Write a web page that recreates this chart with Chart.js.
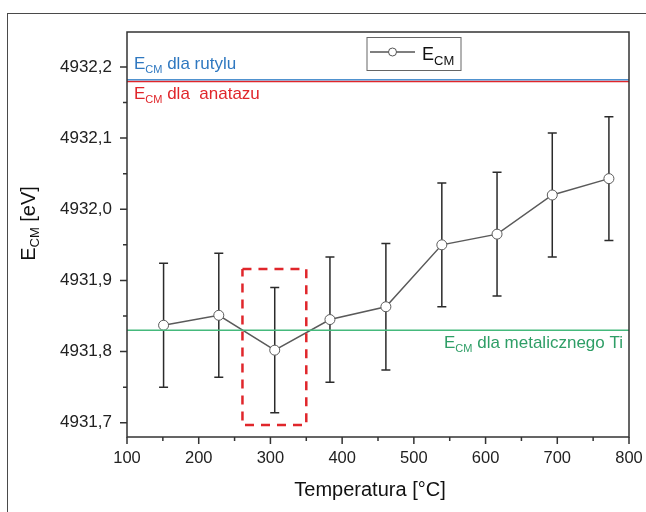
<!DOCTYPE html>
<html>
<head>
<meta charset="utf-8">
<script src="https://cdn.jsdelivr.net/npm/chart.js@4/dist/chart.umd.min.js"></script>
<style>
  html, body { margin: 0; padding: 0; background: #fff; overflow: hidden; }
  #wrap { position: relative; width: 646px; height: 512px; }
  #frame { position: absolute; left: 7px; top: 13px; width: 700px; height: 600px;
           border-top: 1.5px solid #4a4a4a; border-left: 1.5px solid #4a4a4a; }
  canvas { position: absolute; left: 0; top: 0; }
</style>
</head>
<body>
<div id="wrap">
  <div id="frame"></div>
  <canvas id="c" width="646" height="512"></canvas>
</div>
<script>
// Temperature series: E_CM measured after annealing
const temps = [151, 228, 306, 383, 461, 539, 616, 693, 772];
const ecm = [4931.837, 4931.851, 4931.802, 4931.845, 4931.863, 4931.950, 4931.965, 4932.020, 4932.043];
const ecmErr = [0.087, 0.087, 0.088, 0.088, 0.089, 0.087, 0.087, 0.087, 0.087];

// Reference energies
const refRutyl = 4932.182;
const refAnataz = 4932.1795;
const refMetal = 4931.830;

// Highlighted region (temperature range and energy range)
const boxTemps = [261, 350];
const boxEnergy = [4931.697, 4931.916];

// Axis ticks
const xTicks = [100, 150, 200, 250, 300, 350, 400, 450, 500, 550, 600, 650, 700, 750, 800];
const xTickLabels = ['100', '', '200', '', '300', '', '400', '', '500', '', '600', '', '700', '', '800'];
const yTicks = [4931.7, 4931.75, 4931.8, 4931.85, 4931.9, 4931.95, 4932.0, 4932.05, 4932.1, 4932.15, 4932.2];
const yTickLabels = ['4931,7', '', '4931,8', '', '4931,9', '', '4932,0', '', '4932,1', '', '4932,2'];

const FONT = '"Liberation Sans", Arial, sans-serif';
const AXIS = '#333333';

const hline = (v) => [{ x: 100, y: v }, { x: 800, y: v }];

// Draws text made of runs, some of them subscripted
function runs(ctx, x, y, parts, align) {
  let total = 0;
  parts.forEach(p => { ctx.font = p.size + 'px ' + FONT; p.w = ctx.measureText(p.t).width; total += p.w; });
  let cx = align === 'right' ? x - total : align === 'center' ? x - total / 2 : x;
  ctx.textAlign = 'left';
  ctx.textBaseline = 'alphabetic';
  parts.forEach(p => {
    ctx.font = p.size + 'px ' + FONT;
    ctx.fillText(p.t, cx, y + (p.dy || 0));
    cx += p.w;
  });
}

const decor = {
  id: 'decor',
  beforeDatasetsDraw(chart) {
    const { ctx, scales: { x, y } } = chart;
    ctx.save();
    ctx.strokeStyle = '#2b2b2b';
    ctx.lineWidth = 1.5;
    temps.forEach((t, i) => {
      const px = x.getPixelForValue(t);
      const top = y.getPixelForValue(ecm[i] + ecmErr[i]);
      const bot = y.getPixelForValue(ecm[i] - ecmErr[i]);
      ctx.beginPath();
      ctx.moveTo(px, top); ctx.lineTo(px, bot);
      ctx.moveTo(px - 4.5, top); ctx.lineTo(px + 4.5, top);
      ctx.moveTo(px - 4.5, bot); ctx.lineTo(px + 4.5, bot);
      ctx.stroke();
    });
    ctx.restore();
  },
  afterDatasetsDraw(chart) {
    const { ctx, chartArea: a, scales: { x, y } } = chart;
    ctx.save();
    // axis box
    ctx.strokeStyle = AXIS;
    ctx.lineWidth = 1.5;
    ctx.strokeRect(a.left, a.top, a.right - a.left, a.bottom - a.top);
    // tick marks
    ctx.beginPath();
    xTicks.forEach((t, i) => {
      const px = x.getPixelForValue(t);
      const len = xTickLabels[i] ? 7 : 4;
      ctx.moveTo(px, a.bottom); ctx.lineTo(px, a.bottom + len);
    });
    yTicks.forEach((t, i) => {
      const py = y.getPixelForValue(t);
      const len = yTickLabels[i] ? 7 : 4;
      ctx.moveTo(a.left, py); ctx.lineTo(a.left - len, py);
    });
    ctx.stroke();

    // reference labels
    ctx.fillStyle = '#2f78c0';
    runs(ctx, a.left + 7, y.getPixelForValue(refRutyl) - 11,
      [{ t: 'E', size: 17 }, { t: 'CM', size: 11, dy: 4 }, { t: ' dla rutylu', size: 17 }]);
    ctx.fillStyle = '#e0262b';
    runs(ctx, a.left + 7, y.getPixelForValue(refAnataz) + 18,
      [{ t: 'E', size: 17 }, { t: 'CM', size: 11, dy: 4 }, { t: ' dla  anatazu', size: 17 }]);
    ctx.fillStyle = '#2e9e66';
    runs(ctx, a.right - 6, y.getPixelForValue(refMetal) + 18,
      [{ t: 'E', size: 17 }, { t: 'CM', size: 11, dy: 4 }, { t: ' dla metalicznego Ti', size: 17 }], 'right');

    // legend
    const lx = 367, ly = 37.5, lw = 94, lh = 33;
    ctx.fillStyle = '#fff';
    ctx.fillRect(lx, ly, lw, lh);
    ctx.strokeStyle = '#666';
    ctx.lineWidth = 1;
    ctx.strokeRect(lx, ly, lw, lh);
    ctx.strokeStyle = '#555';
    ctx.lineWidth = 1.5;
    ctx.beginPath(); ctx.moveTo(lx + 3, ly + 14.5); ctx.lineTo(lx + 48, ly + 14.5); ctx.stroke();
    ctx.beginPath(); ctx.arc(lx + 25.5, ly + 14.5, 4, 0, Math.PI * 2);
    ctx.fillStyle = '#fff'; ctx.fill();
    ctx.lineWidth = 1; ctx.stroke();
    ctx.fillStyle = '#111';
    runs(ctx, lx + 55, ly + 22, [{ t: 'E', size: 18 }, { t: 'CM', size: 13, dy: 5 }]);

    // axis titles
    ctx.fillStyle = '#111';
    runs(ctx, (a.left + a.right) / 2 - 8, 496, [{ t: 'Temperatura [°C]', size: 20 }], 'center');
    ctx.translate(35, (a.top + a.bottom) / 2 - 11);
    ctx.rotate(-Math.PI / 2);
    runs(ctx, 0, 0, [{ t: 'E', size: 20 }, { t: 'CM', size: 13, dy: 4 }, { t: ' [eV]', size: 20 }], 'center');
    ctx.restore();
  }
};

new Chart(document.getElementById('c'), {
  type: 'line',
  data: {
    datasets: [
      { data: hline(refRutyl), borderColor: '#4f92cf', borderWidth: 1.5, pointRadius: 0 },
      { data: hline(refAnataz), borderColor: '#e0262b', borderWidth: 1.5, pointRadius: 0 },
      { data: hline(refMetal), borderColor: '#45b97c', borderWidth: 1.5, pointRadius: 0 },
      {
        data: [
          { x: boxTemps[0], y: boxEnergy[1] }, { x: boxTemps[1], y: boxEnergy[1] },
          { x: boxTemps[1], y: boxEnergy[0] }, { x: boxTemps[0], y: boxEnergy[0] },
          { x: boxTemps[0], y: boxEnergy[1] }
        ],
        borderColor: '#e0262b', borderWidth: 2.5, borderDash: [9, 7], pointRadius: 0
      },
      {
        label: 'ECM',
        data: temps.map((t, i) => ({ x: t, y: ecm[i] })),
        borderColor: '#5a5a5a', borderWidth: 1.5,
        pointRadius: 5, pointBackgroundColor: '#fff', pointBorderColor: '#5a5a5a', pointBorderWidth: 1
      }
    ]
  },
  options: {
    responsive: false,
    animation: false,
    events: [],
    layout: { padding: { top: 32, right: 17, left: 0, bottom: 0 }, autoPadding: false },
    plugins: { legend: { display: false }, tooltip: { enabled: false } },
    scales: {
      x: {
        type: 'linear', min: 100, max: 800,
        afterFit: s => { s.height = 75; s.paddingLeft = 0; s.paddingRight = 0; },
        afterBuildTicks: s => { s.ticks = xTicks.map(v => ({ value: v })); },
        grid: { display: false, drawTicks: false },
        border: { display: false },
        ticks: {
          autoSkip: false, maxRotation: 0, padding: 12, color: '#222',
          font: { family: FONT, size: 16.5 },
          callback: (v, i) => xTickLabels[i]
        }
      },
      y: {
        type: 'linear', min: 4931.68, max: 4932.249,
        afterFit: s => { s.width = 127; s.paddingTop = 0; s.paddingBottom = 0; },
        afterBuildTicks: s => { s.ticks = yTicks.map(v => ({ value: v })); },
        grid: { display: false, drawTicks: false },
        border: { display: false },
        ticks: {
          autoSkip: false, padding: 15, color: '#222',
          font: { family: FONT, size: 17 },
          callback: (v, i) => yTickLabels[i]
        }
      }
    }
  },
  plugins: [decor]
});
</script>
</body>
</html>
